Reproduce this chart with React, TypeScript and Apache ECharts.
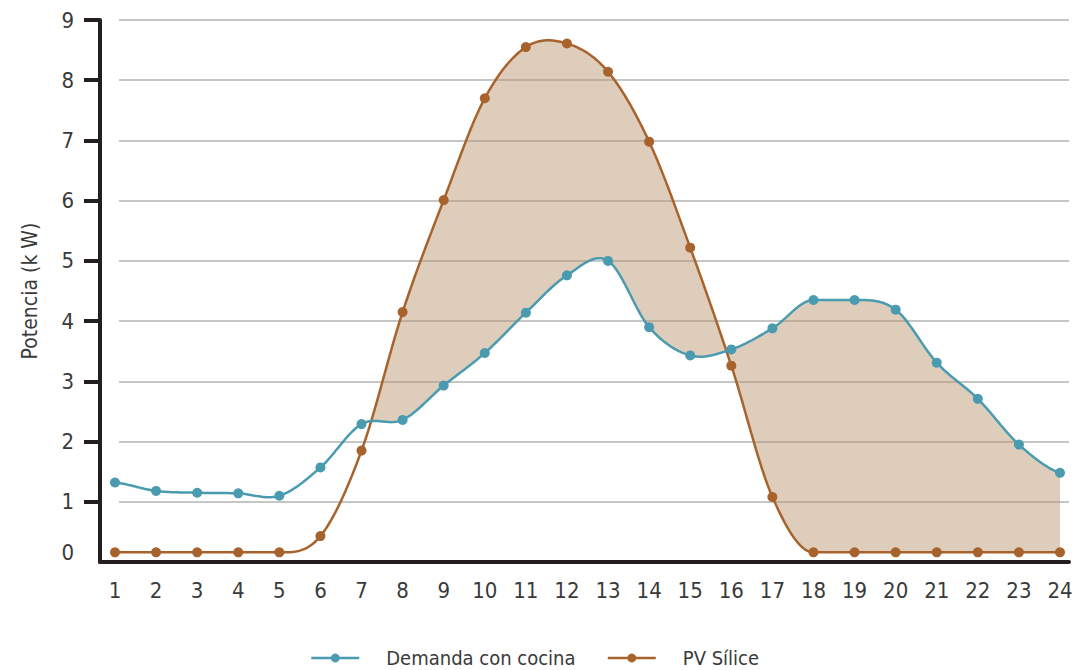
import React, { useEffect, useRef } from "react";
import * as echarts from "echarts";

const hours = [1, 2, 3, 4, 5, 6, 7, 8, 9, 10, 11, 12, 13, 14, 15, 16, 17, 18, 19, 20, 21, 22, 23, 24];
const demandValues = [1.32, 1.18, 1.15, 1.14, 1.1, 1.57, 2.29, 2.36, 2.93, 3.47, 4.14, 4.76, 5.0, 3.9, 3.43, 3.53, 3.88, 4.35, 4.35, 4.19, 3.31, 2.71, 1.95, 1.48];
const pvValues = [0.16, 0.16, 0.16, 0.16, 0.16, 0.43, 1.85, 4.15, 6.01, 7.7, 8.55, 8.61, 8.14, 6.98, 5.22, 3.26, 1.08, 0.16, 0.16, 0.16, 0.16, 0.16, 0.16, 0.16];
const yTickValues = [1, 2, 3, 4, 5, 6, 7, 8, 9];
const seriesNames = ["Demanda con cocina", "PV Sílice"];

const TEAL = "#4a9bb0";
const BROWN = "#a8622c";
const FILL = "rgba(185,145,105,0.45)";
const AXIS = "#231f20";
const TEXT = "#3a3a3a";
const FONT = "'Liberation Sans Narrow', 'Arial Narrow', 'DejaVu Sans Condensed', sans-serif";

function tangents(ys: number[]) {
  const n = ys.length;
  return ys.map((y, i) => {
    if (i === 0) return (ys[1] - y) / 2;
    if (i === n - 1) return (y - ys[n - 2]) / 2;
    const prev = ys[i - 1];
    const next = ys[i + 1];
    if (y === prev || y === next) return 0;
    return (next - prev) / 2;
  });
}

function evalSpline(xs: number[], ys: number[], ms: number[], x: number) {
  const n = xs.length;
  let i = Math.floor(x - xs[0]);
  if (i < 0) i = 0;
  if (i > n - 2) i = n - 2;
  const t = x - xs[i];
  const t2 = t * t;
  const t3 = t2 * t;
  const h00 = 2 * t3 - 3 * t2 + 1;
  const h10 = t3 - 2 * t2 + t;
  const h01 = -2 * t3 + 3 * t2;
  const h11 = t3 - t2;
  return h00 * ys[i] + h10 * ms[i] + h01 * ys[i + 1] + h11 * ms[i + 1];
}

export default function App() {
  const ref = useRef<HTMLDivElement>(null);

  useEffect(() => {
    document.body.style.margin = "0";
    const chart = echarts.init(ref.current!, undefined, { renderer: "svg" });

    const demM = tangents(demandValues);
    const pvM = tangents(pvValues);

    const renderItem = (params: any, api: any) => {
      const N = 30;
      const sx: number[] = [];
      const x0 = hours[0];
      const x1 = hours[hours.length - 1];
      const steps = (x1 - x0) * N;
      for (let k = 0; k <= steps; k++) sx.push(x0 + k / N);
      const dS = sx.map((x) => evalSpline(hours, demandValues, demM, x));
      const pS = sx.map((x) => evalSpline(hours, pvValues, pvM, x));
      const demPts = sx.map((x, k) => api.coord([x, dS[k]]));
      const pvPts = sx.map((x, k) => api.coord([x, pS[k]]));

      // first crossing where PV rises above demand (morning)
      let start = 1;
      for (let k = 1; k < sx.length; k++) {
        if (pS[k - 1] - dS[k - 1] < 0 && pS[k] - dS[k] >= 0) {
          start = k;
          break;
        }
      }
      const a = pS[start - 1] - dS[start - 1];
      const b = pS[start] - dS[start];
      const f = a / (a - b);
      const cx = sx[start - 1] + f / N;
      const cy = dS[start - 1] + (dS[start] - dS[start - 1]) * f;
      const upper: number[][] = [api.coord([cx, cy])];
      const lower: number[][] = [api.coord([cx, cy])];
      for (let k = start; k < sx.length; k++) {
        upper.push(api.coord([sx[k], Math.max(dS[k], pS[k])]));
        lower.push(api.coord([sx[k], Math.min(dS[k], pS[k])]));
      }
      const poly = upper.concat(lower.reverse());

      return {
        type: "group",
        children: [
          { type: "polygon", silent: true, shape: { points: poly }, style: { fill: FILL, stroke: "none" } },
          { type: "polyline", silent: true, shape: { points: pvPts }, style: { stroke: BROWN, lineWidth: 2.5, fill: "none" } },
          { type: "polyline", silent: true, shape: { points: demPts }, style: { stroke: TEAL, lineWidth: 2.5, fill: "none" } },
        ],
      };
    };

    const option: any = {
      animation: false,
      textStyle: { fontFamily: FONT },
      grid: [
        // grid 0: carries the y axis (line, ticks, labels) and the gridlines
        { left: 119, right: 10, top: 20, bottom: 108, containLabel: false },
        // grid 1: carries the x axis and the data
        { left: 100, right: 10, top: 20, bottom: 108, containLabel: false },
      ],
      xAxis: [
        { gridIndex: 0, type: "value", min: 0, max: 1, show: false },
        {
          gridIndex: 1,
          type: "value",
          min: 0.635,
          max: 24.219,
          minInterval: 1,
          maxInterval: 1,
          splitNumber: 24,
          axisLine: { show: true, onZero: false, lineStyle: { color: AXIS, width: 4 } },
          axisTick: { show: false },
          splitLine: { show: false },
          axisLabel: {
            color: TEXT,
            fontSize: 22,
            fontFamily: FONT,
            margin: 17,
            showMinLabel: true,
            showMaxLabel: true,
            formatter: (v: number) => (Math.abs(v - Math.round(v)) < 1e-6 ? String(Math.round(v)) : ""),
          },
        },
      ],
      yAxis: [
        {
          gridIndex: 0,
          type: "value",
          min: 0,
          max: 9,
          interval: 1,
          offset: 19,
          name: "Potencia (k W)",
          nameLocation: "middle",
          nameRotate: 90,
          nameGap: 60,
          nameTextStyle: { color: TEXT, fontSize: 21, fontFamily: FONT },
          axisLine: { show: true, onZero: false, lineStyle: { color: AXIS, width: 4 } },
          axisTick: { show: true, length: 16, customValues: yTickValues, lineStyle: { color: AXIS, width: 4 } },
          splitLine: { show: true, lineStyle: { color: "#b3b3b3", width: 1.5 } },
          axisLabel: {
            color: TEXT,
            fontSize: 22,
            fontFamily: FONT,
            margin: 26,
            formatter: (v: number) => (v === 0 ? "{z|0}" : String(v)),
            rich: { z: { padding: [0, 0, 20, 0], fontSize: 22, color: TEXT, fontFamily: FONT } },
          },
        },
        { gridIndex: 1, type: "value", min: 0, max: 9, interval: 1, show: false, splitLine: { show: false } },
      ],
      legend: {
        left: 305,
        top: 643,
        itemWidth: 48,
        itemHeight: 11,
        itemGap: 31,
        textStyle: { color: TEXT, fontSize: 20, fontFamily: FONT, padding: [0, 0, 0, 22] },
        data: [
          { name: seriesNames[0], lineStyle: { color: TEAL, width: 2.5, opacity: 1 }, itemStyle: { color: TEAL } },
          { name: seriesNames[1], lineStyle: { color: BROWN, width: 2.5, opacity: 1 }, itemStyle: { color: BROWN } },
        ],
      },
      series: [
        {
          type: "custom",
          name: "fill",
          xAxisIndex: 1,
          yAxisIndex: 1,
          renderItem,
          clip: false,
          silent: true,
          z: 2,
          data: [[hours[0], 0]],
          encode: { x: 0, y: 1 },
        },
        {
          type: "line",
          name: seriesNames[1],
          xAxisIndex: 1,
          yAxisIndex: 1,
          data: hours.map((h, i) => [h, pvValues[i]]),
          symbol: "circle",
          symbolSize: 10,
          showAllSymbol: true,
          z: 4,
          itemStyle: { color: BROWN },
          lineStyle: { color: BROWN, width: 2.5, opacity: 0 },
        },
        {
          type: "line",
          name: seriesNames[0],
          xAxisIndex: 1,
          yAxisIndex: 1,
          data: hours.map((h, i) => [h, demandValues[i]]),
          symbol: "circle",
          symbolSize: 10,
          showAllSymbol: true,
          z: 5,
          itemStyle: { color: TEAL },
          lineStyle: { color: TEAL, width: 2.5, opacity: 0 },
        },
      ],
    };

    chart.setOption(option);
    return () => chart.dispose();
  }, []);

  return <div ref={ref} style={{ width: 1079, height: 670 }} />;
}
